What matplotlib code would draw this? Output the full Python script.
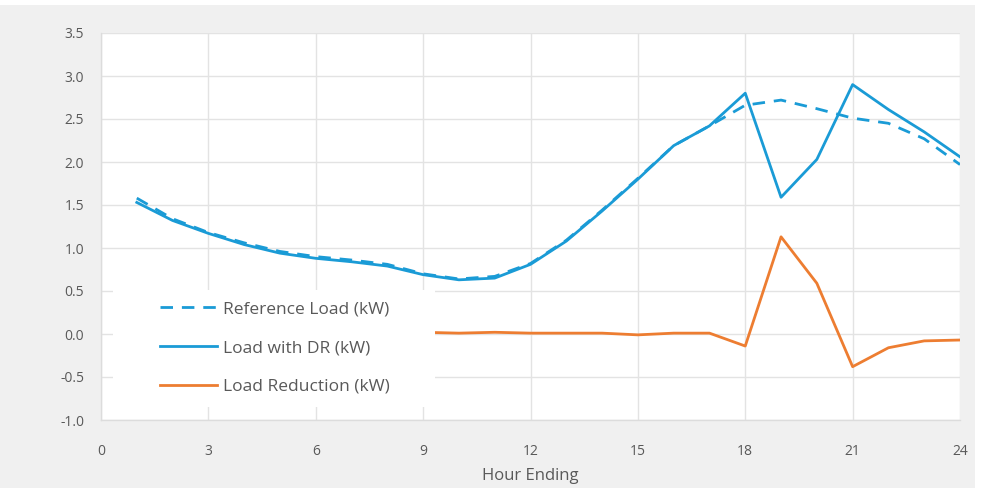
import matplotlib
matplotlib.use("Agg")
import matplotlib.pyplot as plt
from matplotlib.patches import Rectangle

hours = list(range(1, 25))
reference_load = [1.58, 1.34, 1.18, 1.06, 0.96, 0.90, 0.86, 0.81, 0.70, 0.64, 0.67, 0.82, 1.09,
                  1.44, 1.81, 2.19, 2.42, 2.66, 2.72, 2.62, 2.51, 2.45, 2.27, 1.97]
load_with_dr = [1.53, 1.32, 1.17, 1.04, 0.94, 0.88, 0.84, 0.79, 0.69, 0.63, 0.65, 0.81, 1.08,
                1.43, 1.80, 2.19, 2.42, 2.80, 1.59, 2.03, 2.90, 2.61, 2.35, 2.06]
load_reduction = [0.05, 0.02, 0.01, 0.02, 0.02, 0.02, 0.02, 0.02, 0.02, 0.01, 0.02, 0.01, 0.01,
                  0.01, -0.01, 0.01, 0.01, -0.14, 1.13, 0.59, -0.38, -0.16, -0.08, -0.07]
series_labels = ["Reference Load (kW)", "Load with DR (kW)", "Load Reduction (kW)"]
x_ticks = [0, 3, 6, 9, 12, 15, 18, 21, 24]
y_ticks = [-1.0, -0.5, 0.0, 0.5, 1.0, 1.5, 2.0, 2.5, 3.0, 3.5]
x_label = "Hour Ending"

plt.rcParams['font.family'] = ['Open Sans', 'DejaVu Sans']
text_color = "#595959"
blue = "#1a9bd6"
orange = "#ed7d31"

W, H = 982, 488
fig = plt.figure(figsize=(W / 100, H / 100), dpi=100, facecolor="white")
fig.patches.append(Rectangle((0, 0), 975 / W, 483 / H, transform=fig.transFigure,
                             facecolor="#f0f0f0", edgecolor="none", zorder=-10))
ax = fig.add_axes([101 / W, 68 / H, 859 / W, 387 / H])
ax.set_facecolor("white")

ax.plot(hours, reference_load, color=blue, lw=2.0, ls=(0, (4.5, 3.2)), label=series_labels[0], zorder=3)
ax.plot(hours, load_with_dr, color=blue, lw=2.0, label=series_labels[1], zorder=3)
ax.plot(hours, load_reduction, color=orange, lw=2.0, label=series_labels[2], zorder=3)

ax.set_xlim(0, 24)
ax.set_ylim(-1.0, 3.5)
ax.set_xticks(x_ticks)
ax.set_xticklabels([str(t) for t in x_ticks])
ax.set_yticks(y_ticks)
ax.set_yticklabels([f"{t:.1f}" for t in y_ticks])
ax.grid(True, color="#e3e3e3", lw=1.0, zorder=0)
ax.set_axisbelow(True)
for s in ["top", "right"]:
    ax.spines[s].set_visible(False)
for s in ["left", "bottom"]:
    ax.spines[s].set_color("#dcdcdc")
    ax.spines[s].set_linewidth(1.0)
ax.tick_params(axis="both", length=0, colors=text_color, labelsize=10)
ax.tick_params(axis="x", pad=17)
ax.tick_params(axis="y", pad=12)
ax.set_xlabel(x_label, fontsize=12, color=text_color, labelpad=7)

# white legend panel (covers gridlines and lines beneath it)
fig.patches.append(Rectangle((113 / W, (H - 407) / H), (435 - 113) / W, (407 - 290) / H,
                             transform=fig.transFigure, facecolor="white", edgecolor="none",
                             zorder=4))
leg = fig.legend(*ax.get_legend_handles_labels(), loc="center left",
                 bbox_to_anchor=(160 / W, (H - 348) / H), frameon=False,
                 fontsize=12.5, labelcolor=text_color, handlelength=3.3, handletextpad=0.35,
                 labelspacing=1.3, borderpad=0, borderaxespad=0)
leg.set_zorder(6)

fig.savefig("out.png", dpi=100, facecolor=fig.get_facecolor())
